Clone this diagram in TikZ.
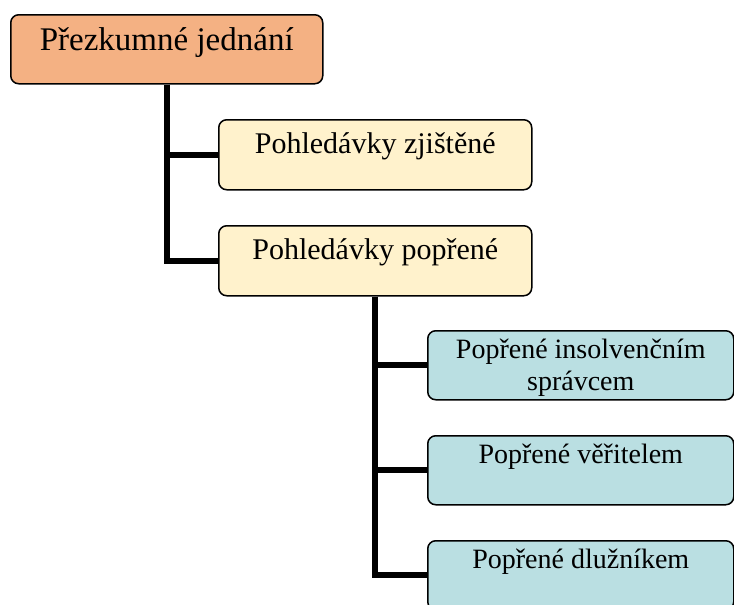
\documentclass[tikz,border=0pt]{standalone}
\usepackage{fontspec}
\setmainfont{Liberation Serif}
\usepackage{xcolor}
\usetikzlibrary{positioning}
\definecolor{rootfill}{HTML}{F4B183}
\definecolor{claimfill}{HTML}{FFF2CC}
\definecolor{deniedfill}{HTML}{BADFE2}

\begin{document}
\begin{tikzpicture}[x=1pt,y=-1pt,
    box/.style={draw, line width=1.5pt, rounded corners=8pt, anchor=north west,
        inner xsep=0pt, inner ysep=0pt, align=center},
    claim/.style={box, fill=claimfill, minimum width=313pt, minimum height=70pt,
        text height=34pt, text depth=36pt, font=\fontsize{30}{34}\selectfont},
    denied/.style={box, fill=deniedfill, minimum width=306pt, minimum height=69pt,
        text height=28pt, text depth=41pt, font=\fontsize{28}{32}\selectfont},
    link/.style={line width=6pt}]
    \useasboundingbox (0,0) rectangle (734,605);

    % Review hearing
    \node[box, fill=rootfill, minimum width=312pt, minimum height=69pt,
        text height=36pt, text depth=33pt, font=\fontsize{33}{38}\selectfont]
        (root) at (10,14) {Přezkumné jednání};

    % Claims
    \node[claim] (found) at (218,119) {Pohledávky zjištěné};
    \node[claim] (disputed) at (218,225) {Pohledávky popřené};

    % Disputed by
    \node[denied, text height=60pt, text depth=9pt] (trustee) at (427,330)
        {Popřené insolvenčním\\správcem};
    \node[denied] (creditor) at (427,435) {Popřené věřitelem};
    \node[denied] (debtor) at (427,540) {Popřené dlužníkem};

    \draw[link] (root.south) |- (found.west);
    \draw[link] (root.south) |- (disputed.west);
    \draw[link] (disputed.south) |- (trustee.west);
    \draw[link] (disputed.south) |- (creditor.west);
    \draw[link] (disputed.south) |- (debtor.west);
\end{tikzpicture}
\end{document}
